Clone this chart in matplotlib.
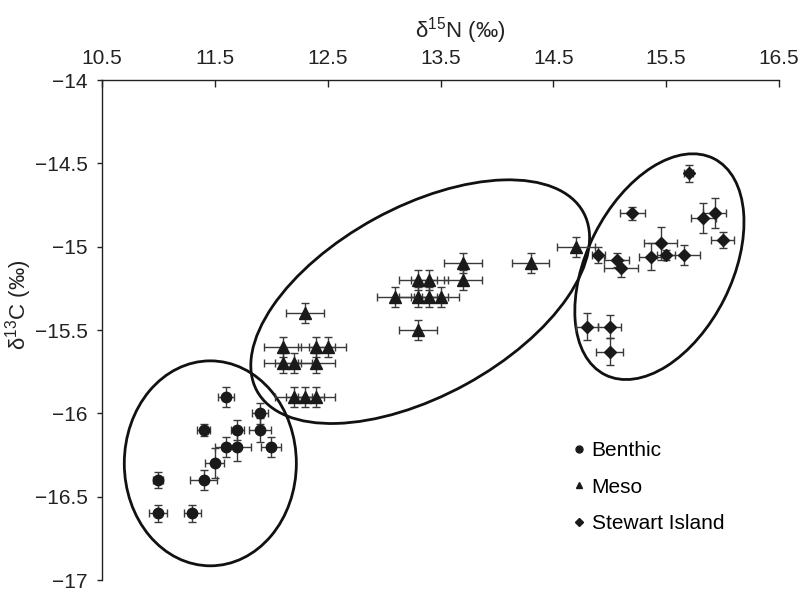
import matplotlib
matplotlib.use("Agg")
import matplotlib.pyplot as plt
from matplotlib.patches import Ellipse
from matplotlib.transforms import Affine2D
from matplotlib.lines import Line2D

plt.rcParams['font.family'] = ['Liberation Sans', 'DejaVu Sans']
plt.rcParams['mathtext.fontset'] = 'custom'
plt.rcParams['mathtext.rm'] = 'Liberation Sans'
plt.rcParams['mathtext.it'] = 'Liberation Sans'

# ---- data ----
benthic_n = [11.6, 11.9, 11.4, 11.7, 11.9, 11.6, 11.7, 12.0, 11.5, 11.0, 11.4, 11.0, 11.3]
benthic_c = [-15.9, -16.0, -16.1, -16.1, -16.1, -16.2, -16.2, -16.2, -16.3, -16.4, -16.4, -16.6, -16.6]
benthic_nerr = [0.07, 0.07, 0.06, 0.06, 0.10, 0.10, 0.12, 0.09, 0.085, 0.045, 0.12, 0.08, 0.075]
benthic_cerr = [0.06, 0.065, 0.035, 0.06, 0.07, 0.06, 0.085, 0.06, 0.09, 0.05, 0.06, 0.05, 0.05]

meso_n = [12.3, 12.1, 12.4, 12.5, 12.1, 12.2, 12.4, 12.2, 12.3, 12.4,
          13.7, 14.3, 13.3, 13.4, 13.7, 13.1, 13.3, 13.4, 13.5, 13.3, 14.7]
meso_c = [-15.4, -15.6, -15.6, -15.6, -15.7, -15.7, -15.7, -15.9, -15.9, -15.9,
          -15.1, -15.1, -15.2, -15.2, -15.2, -15.3, -15.3, -15.3, -15.3, -15.5, -15.0]
meso_nerr = [0.165] * 21
meso_cerr = [0.06] * 21

stewart_n = [15.7, 15.2, 15.83, 15.93, 16.0, 15.45, 14.9, 15.06, 15.1, 15.37, 15.5, 15.66, 14.8, 15.0, 15.0]
stewart_c = [-14.56, -14.8, -14.83, -14.8, -14.96, -14.98, -15.05, -15.08, -15.13, -15.06, -15.05, -15.05, -15.48, -15.48, -15.63]
stewart_nerr = [0.04, 0.11, 0.11, 0.10, 0.10, 0.15, 0.06, 0.11, 0.15, 0.11, 0.08, 0.14, 0.10, 0.10, 0.12]
stewart_cerr = [0.05, 0.04, 0.09, 0.09, 0.05, 0.10, 0.05, 0.04, 0.05, 0.08, 0.03, 0.06, 0.08, 0.07, 0.08]

labels = ['Benthic', 'Meso', 'Stewart Island']
x_ticks = [10.5, 11.5, 12.5, 13.5, 14.5, 15.5, 16.5]
y_ticks = [-14, -14.5, -15, -15.5, -16, -16.5, -17]
y_tick_labels = ['\u221214', '\u221214.5', '\u221215', '\u221215.5', '\u221216', '\u221216.5', '\u221217']

# ---- figure ----
fig = plt.figure(figsize=(8.0, 5.93), dpi=100)
ax = fig.add_axes([102/800, 1 - 580/593, 677/800, 500/593])
ax.set_xlim(10.5, 16.5)
ax.set_ylim(-17, -14)

mk_color = '#1a1a1a'
err_color = '#3a3a3a'
common = dict(linestyle='none', color=mk_color, ecolor=err_color, elinewidth=1.0,
              capsize=3.2, capthick=1.0, zorder=3)
ax.errorbar(benthic_n, benthic_c, xerr=benthic_nerr, yerr=benthic_cerr, marker='o', markersize=7.5, **common)
ax.errorbar(meso_n, meso_c, xerr=meso_nerr, yerr=meso_cerr, marker='^', markersize=8, **common)
ax.errorbar(stewart_n, stewart_c, xerr=stewart_nerr, yerr=stewart_cerr, marker='D', markersize=6, **common)

# ellipses (drawn in reference-pixel units, placed in data space)
PX_X, PX_Y = 112.8, 166.7
ellipses = [((11.46, -16.30), 172, 205, 0.0),
            ((13.32, -15.33), 372, 189, 28.7),
            ((15.44, -15.12), 242, 145, 63.3)]
for (cx, cy), w, h, ang in ellipses:
    tr = Affine2D().scale(1 / PX_X, 1 / PX_Y).translate(cx, cy) + ax.transData
    e = Ellipse((0, 0), w, h, angle=ang, fill=False, edgecolor='#111111', linewidth=2.0,
                transform=tr, zorder=2)
    ax.add_patch(e)

# axes styling
for s in ['right', 'bottom']:
    ax.spines[s].set_visible(False)
for s in ['left', 'top']:
    ax.spines[s].set_linewidth(1.0)
    ax.spines[s].set_color('#222222')
ax.xaxis.tick_top()
ax.set_xticks(x_ticks)
ax.set_xticklabels([str(v) for v in x_ticks])
ax.set_yticks(y_ticks)
ax.set_yticklabels(y_tick_labels)
ax.tick_params(axis='x', direction='in', length=5, width=1, labelsize=15, pad=9, colors='#222222')
ax.tick_params(axis='y', direction='out', length=3.5, width=1, labelsize=15, pad=7, colors='#222222')

ax.set_xlabel(r'δ$^{\mathrm{15}}$N (‰)', fontsize=16, color='#222222')
ax.xaxis.set_label_position('top')
ax.xaxis.set_label_coords((460 - 102) / 677, (580 - 38) / 500)
ax.set_ylabel(r'δ$^{\mathrm{13}}$C (‰)', fontsize=16, color='#222222')
ax.yaxis.set_label_coords((34 - 102) / 677, (580 - 305) / 500)

handles = [Line2D([], [], linestyle='none', marker='o', markersize=5, color=mk_color),
           Line2D([], [], linestyle='none', marker='^', markersize=5, color=mk_color),
           Line2D([], [], linestyle='none', marker='D', markersize=3.8, color=mk_color)]
ax.legend(handles, labels, loc='upper left', bbox_to_anchor=((574 - 102) / 677, (580 - 441) / 500),
          frameon=False, fontsize=15, handlelength=0.5, handletextpad=0.35, labelspacing=0.85,
          borderaxespad=0, borderpad=0)

fig.savefig('out.png', dpi=100)
